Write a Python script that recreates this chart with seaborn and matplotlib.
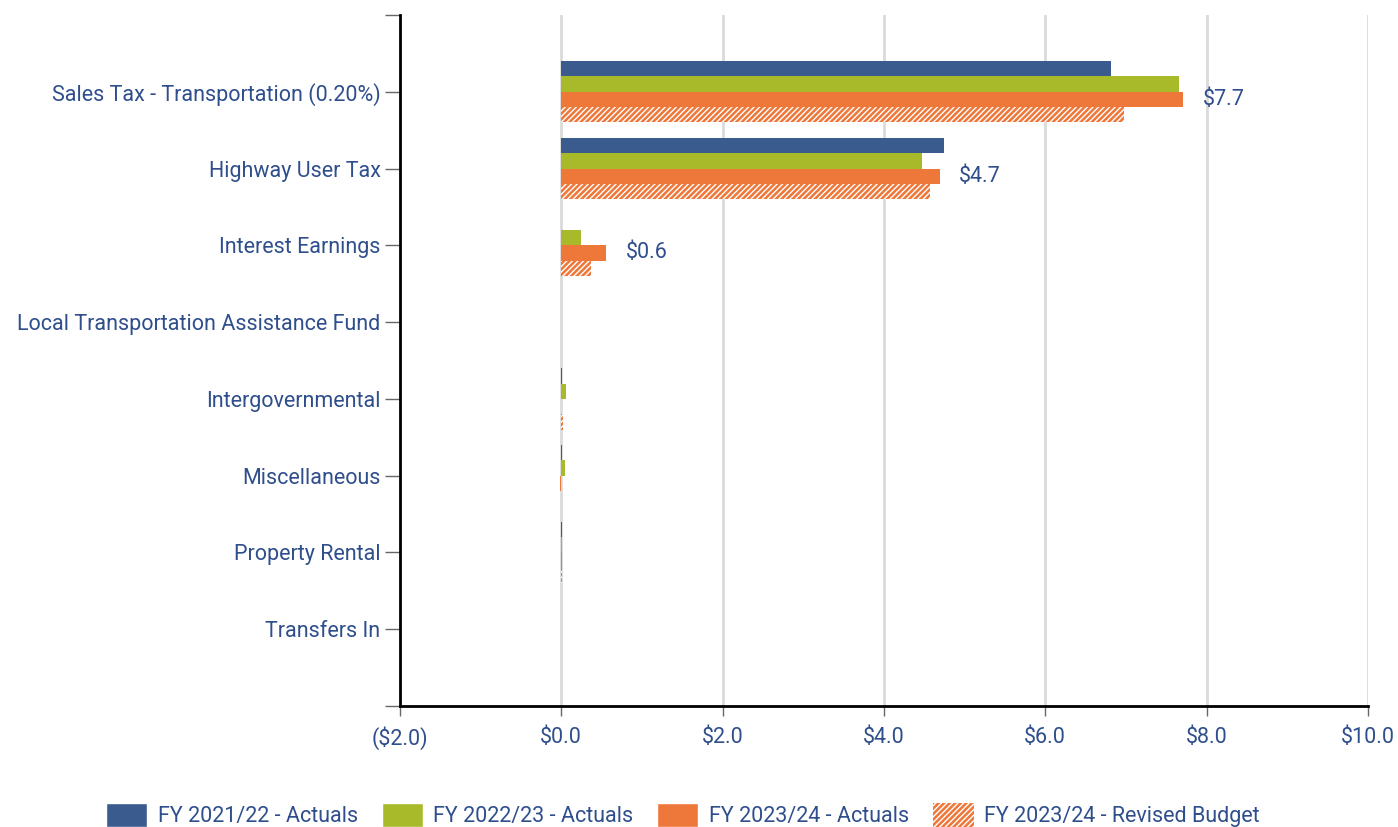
import matplotlib
matplotlib.use('Agg')
import matplotlib.pyplot as plt
import matplotlib.ticker as mticker
import numpy as np
import pandas as pd
import seaborn as sns

sns.set_style('white')
plt.rcParams['font.family'] = ['Roboto', 'DejaVu Sans']
plt.rcParams['xtick.bottom'] = True
plt.rcParams['ytick.left'] = True

categories = ['Sales Tax - Transportation (0.20%)', 'Highway User Tax', 'Interest Earnings',
              'Local Transportation Assistance Fund', 'Intergovernmental', 'Miscellaneous',
              'Property Rental', 'Transfers In']
series = ['FY 2021/22 - Actuals', 'FY 2022/23 - Actuals', 'FY 2023/24 - Actuals',
          'FY 2023/24 - Revised Budget']
fy22 = [6.81, 4.74, 0.0, 0.0, 0.005, 0.005, 0.005, 0.0]
fy23 = [7.66, 4.47, 0.24, 0.0, 0.06, 0.04, 0.003, 0.0]
fy24 = [7.71, 4.69, 0.56, 0.0, 0.0, -0.02, 0.003, 0.0]
fy24_budget = [6.98, 4.57, 0.37, 0.0, 0.02, 0.0, 0.003, 0.0]
label_vals = ['$7.7', '$4.7', '$0.6', '', '', '', '', '']

colors = ['#3A5B8E', '#A8BA2A', '#EE773A', '#EE773A']
text_color = '#2F4E8C'
fs = 15.5

df = pd.DataFrame({
    'category': categories * 4,
    'series': [s for s in series for _ in categories],
    'value': fy22 + fy23 + fy24 + fy24_budget,
})

fig = plt.figure(figsize=(13.98, 8.27), dpi=100)
ax = fig.add_axes([0.2861, 0.1463, 0.6924, 0.8356])

sns.barplot(data=df, x='value', y='category', hue='series', order=categories,
            hue_order=series, palette=colors, orient='h', width=0.8, ax=ax,
            saturation=1, legend=False, linewidth=0)

# hatched budget bars
for bar in ax.containers[3]:
    bar.set_hatch('//////')
    bar.set_edgecolor('white')
    bar.set_linewidth(0)

ax.bar_label(ax.containers[2], labels=label_vals, padding=14, color=text_color,
             fontsize=fs)

ax.set_xlim(-2, 10)
ax.set_ylim(8, -1)
ax.xaxis.set_major_locator(mticker.MultipleLocator(2))
ax.xaxis.set_major_formatter(mticker.FuncFormatter(
    lambda v, p: f'(${abs(v):.1f})' if v < 0 else f'${v:.1f}'))
ax.set_yticks(range(len(categories)))
ax.set_yticks([-1, 8], minor=True)
ax.set_xlabel('')
ax.set_ylabel('')

ax.grid(axis='x', color='#DADADA', linewidth=2)
ax.set_axisbelow(True)
for s in ['top', 'right']:
    ax.spines[s].set_visible(False)
for s in ['left', 'bottom']:
    ax.spines[s].set_color('black')
    ax.spines[s].set_linewidth(2)

ax.tick_params(axis='y', which='both', length=11, width=1, color='#666666',
               labelsize=fs, labelcolor=text_color, pad=3)
ax.tick_params(axis='x', length=7, width=1, color='#666666', labelsize=fs,
               labelcolor=text_color, pad=8)

handles = [plt.Rectangle((0, 0), 1, 1, facecolor=c) for c in colors[:3]]
handles.append(plt.Rectangle((0, 0), 1, 1, facecolor=colors[3], hatch='//////',
                             edgecolor='white', linewidth=0))
fig.legend(handles, series, loc='center', bbox_to_anchor=(0.4886, 0.014), ncol=4,
           frameon=False, fontsize=fs, handlelength=1.9, handleheight=1.3,
           columnspacing=1.1, handletextpad=0.5, labelcolor=text_color)

fig.savefig('out.png', dpi=100)
